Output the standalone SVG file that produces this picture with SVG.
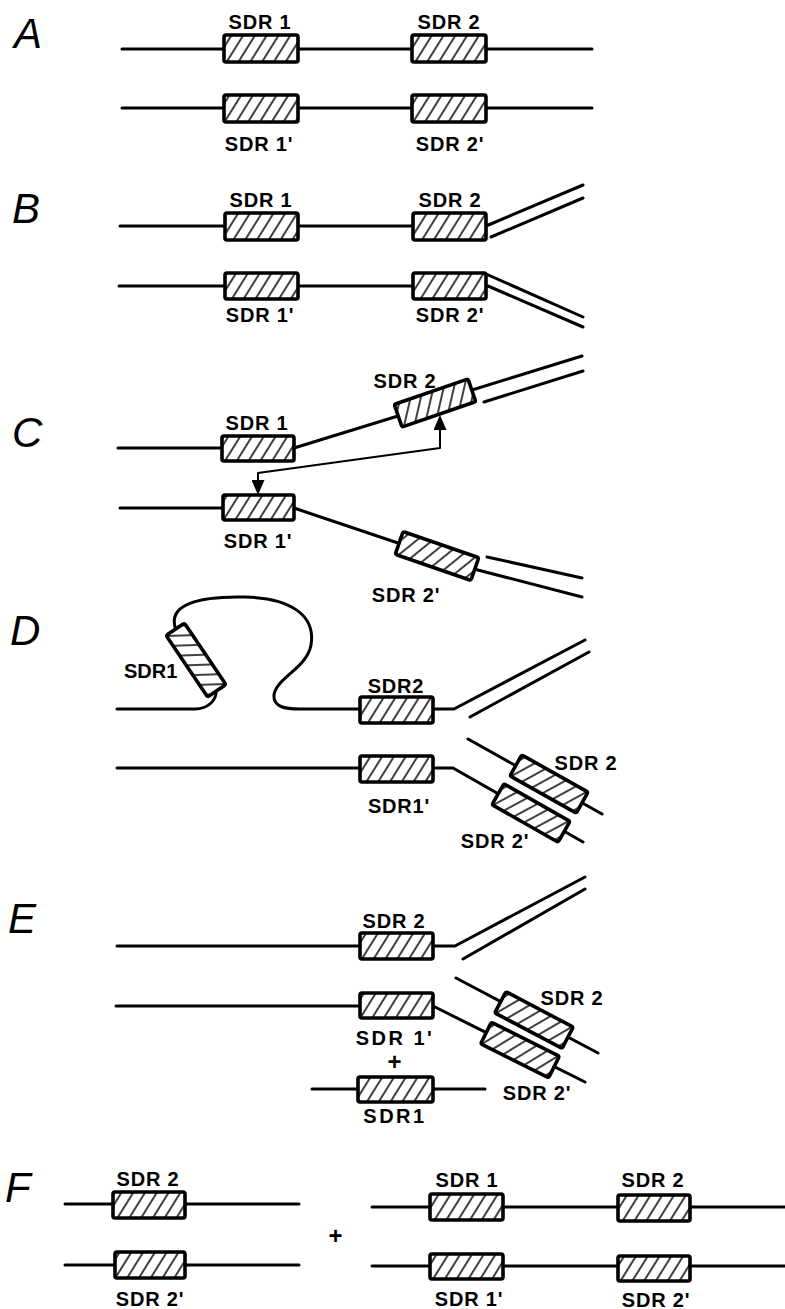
<svg xmlns="http://www.w3.org/2000/svg" width="785" height="1309" viewBox="0 0 785 1309">
<style>
.s{fill:none;stroke:#000;stroke-width:3;stroke-linecap:round;stroke-linejoin:round}
.b{fill:url(#h);stroke:#000;stroke-width:3.6}
.t{font-family:"Liberation Sans",Arial,sans-serif;font-size:20px;font-weight:bold;letter-spacing:0.8px;text-anchor:middle;fill:#000}
.ts{letter-spacing:2.5px}
.L{font-family:"Liberation Sans",Arial,sans-serif;font-size:42px;font-style:italic;fill:#000}
.c{fill:none;stroke:#000;stroke-width:2;stroke-linejoin:round}
</style>
<defs>
<pattern id="h" width="10" height="12" patternUnits="userSpaceOnUse" patternTransform="rotate(32)">
<rect width="10" height="12" fill="#fff"/>
<line x1="5" y1="0" x2="5" y2="12" stroke="#000" stroke-width="1.5"/>
</pattern>
<marker id="arr" viewBox="0 0 15 13" refX="1" refY="6.5" markerWidth="15" markerHeight="13" markerUnits="userSpaceOnUse" orient="auto-start-reverse">
<path d="M0,0 L15,6.5 L0,13 Z" fill="#000"/>
</marker>
</defs>
<rect width="785" height="1309" fill="#fff"/>

<!-- Panel A -->
<g id="panelA">
<text class="L" x="14" y="48">A</text>
<g id="A-strands">
<path class="s" d="M122,49 H592"/>
<path class="s" d="M122,108 H592"/>
</g>
<g id="A-sdr1"><rect class="b" x="224" y="35" width="74" height="27" rx="2"/><text class="t" x="260" y="29">SDR 1</text></g>
<g id="A-sdr2"><rect class="b" x="412" y="35" width="74" height="27" rx="2"/><text class="t" x="449" y="29">SDR 2</text></g>
<g id="A-sdr1p"><rect class="b" x="224" y="95" width="74" height="27" rx="2"/><text class="t" x="259" y="151">SDR 1'</text></g>
<g id="A-sdr2p"><rect class="b" x="412" y="95" width="74" height="27" rx="2"/><text class="t" x="450" y="151">SDR 2'</text></g>
</g>

<!-- Panel B -->
<g id="panelB">
<text class="L" x="12" y="223">B</text>
<g id="B-strands">
<path class="s" d="M120,226 H486 L583,185"/>
<path class="s" d="M491,237 L583,198"/>
<path class="s" d="M119,286 H486"/>
<path class="s" d="M486,274 L583,317"/>
<path class="s" d="M488,286 L583,327"/>
</g>
<g id="B-sdr1"><rect class="b" x="225" y="213" width="73" height="27" rx="2"/><text class="t" x="261" y="207">SDR 1</text></g>
<g id="B-sdr2"><rect class="b" x="413" y="213" width="73" height="27" rx="2"/><text class="t" x="450" y="207">SDR 2</text></g>
<g id="B-sdr1p"><rect class="b" x="225" y="273" width="73" height="26" rx="2"/><text class="t" x="260" y="322">SDR 1'</text></g>
<g id="B-sdr2p"><rect class="b" x="413" y="273" width="73" height="26" rx="2"/><text class="t" x="450" y="322">SDR 2'</text></g>
</g>

<!-- Panel C -->
<g id="panelC">
<text class="L" x="12" y="447">C</text>
<g id="C-strands">
<path class="s" d="M118,448 H294 L398,416 L472,390 L582,356"/>
<path class="s" d="M484,402 L583,371"/>
<path class="s" d="M120,508 H294 L398,543 L474,569 L582,597"/>
<path class="s" d="M487,557 L582,578"/>
</g>
<g id="C-sdr1"><rect class="b" x="222" y="436" width="72" height="25" rx="2"/><text class="t" x="257" y="430">SDR 1</text></g>
<g id="C-sdr2"><rect class="b" x="-39" y="-12" width="78" height="24" rx="2" transform="translate(435,403) rotate(-19)"/><text class="t" x="405" y="388">SDR 2</text></g>
<g id="C-sdr1p"><rect class="b" x="223" y="495" width="71" height="25" rx="2"/><text class="t" x="258" y="548">SDR 1'</text></g>
<g id="C-sdr2p"><rect class="b" x="-40" y="-12" width="80" height="24" rx="2" transform="translate(437,556) rotate(19)"/><text class="t" x="406" y="602">SDR 2'</text></g>
</g>
<g id="connectors">
<path class="c" d="M440,429 V448 L258,473 V481" marker-start="url(#arr)" marker-end="url(#arr)"/>
</g>

<!-- Panel D -->
<g id="panelD">
<text class="L" x="10" y="645">D</text>
<g id="D-strands">
<path class="s" d="M117,709 L195,709 C208,709 217,700 216,690"/>
<path class="s" d="M176,630 C166,604 200,596 245,597 C290,598 316,615 311,645 C307,668 276,678 274,695 C273,707 285,709 300,709 L454,709 L585,640"/>
<path class="s" d="M470,717 L589,652"/>
<path class="s" d="M117,768 H453 L583,842"/>
<path class="s" d="M468,739 L602,814"/>
</g>
<g id="D-sdr1"><rect class="b" x="-37" y="-11" width="74" height="22" rx="2" transform="translate(196,660) rotate(56)"/><text class="t" x="124" y="678" style="text-anchor:start;letter-spacing:0px">SDR1</text></g>
<g id="D-sdr2"><rect class="b" x="360" y="697" width="73" height="26" rx="2"/><text class="t" x="396" y="693">SDR2</text></g>
<g id="D-sdr1p"><rect class="b" x="360" y="756" width="73" height="26" rx="2"/><text class="t" x="399" y="813">SDR1'</text></g>
<g id="D-sdr2p"><rect class="b" x="-38" y="-12" width="76" height="24" rx="2" transform="translate(531,813) rotate(29.6)"/><text class="t" x="495" y="848">SDR 2'</text></g>
<g id="D-sdr2b"><rect class="b" x="-38" y="-12" width="76" height="24" rx="2" transform="translate(549,784) rotate(29.3)"/><text class="t" x="586" y="770">SDR 2</text></g>
</g>

<!-- Panel E -->
<g id="panelE">
<text class="L" x="8" y="933">E</text>
<g id="E-strands">
<path class="s" d="M117,946 H455 L585,877"/>
<path class="s" d="M463,959 L585,889"/>
<path class="s" d="M116,1006 H433 L585,1082"/>
<path class="s" d="M456,978 L598,1053"/>
<path class="s" d="M312,1089 H485"/>
</g>
<g id="E-sdr2"><rect class="b" x="360" y="933" width="73" height="26" rx="2"/><text class="t" x="394" y="928">SDR 2</text></g>
<g id="E-sdr1p"><rect class="b" x="360" y="993" width="73" height="25" rx="2"/><text class="t ts" x="395" y="1045">SDR 1'</text></g>
<text class="t" x="395" y="1070" style="font-size:24px">+</text>
<g id="E-sdr1"><rect class="b" x="358" y="1077" width="75" height="25" rx="2"/><text class="t ts" x="395" y="1123">SDR1</text></g>
<g id="E-sdr2p"><rect class="b" x="-38" y="-12" width="76" height="24" rx="2" transform="translate(520,1050) rotate(26.5)"/><text class="t" x="537" y="1100">SDR 2'</text></g>
<g id="E-sdr2b"><rect class="b" x="-38" y="-12" width="76" height="24" rx="2" transform="translate(534,1020) rotate(27.8)"/><text class="t" x="572" y="1005">SDR 2</text></g>
</g>

<!-- Panel F -->
<g id="panelF">
<text class="L" x="5" y="1202">F</text>
<g id="F-strands">
<path class="s" d="M65,1204 H299"/>
<path class="s" d="M65,1265 H299"/>
<path class="s" d="M372,1207 H785"/>
<path class="s" d="M372,1266 H785"/>
</g>
<g id="F-left-sdr2"><rect class="b" x="113" y="1192" width="72" height="26" rx="2"/><text class="t" x="148" y="1186">SDR 2</text></g>
<g id="F-left-sdr2p"><rect class="b" x="115" y="1252" width="70" height="26" rx="2"/><text class="t" x="150" y="1306">SDR 2'</text></g>
<text class="t" x="336" y="1244" style="font-size:24px">+</text>
<g id="F-sdr1"><rect class="b" x="430" y="1194" width="73" height="26" rx="2"/><text class="t" x="467" y="1187">SDR 1</text></g>
<g id="F-sdr2"><rect class="b" x="618" y="1195" width="72" height="26" rx="2"/><text class="t" x="653" y="1187">SDR 2</text></g>
<g id="F-sdr1p"><rect class="b" x="430" y="1254" width="73" height="25" rx="2"/><text class="t" x="469" y="1306">SDR 1'</text></g>
<g id="F-sdr2p"><rect class="b" x="618" y="1256" width="72" height="25" rx="2"/><text class="t" x="656" y="1307">SDR 2'</text></g>
</g>
</svg>
